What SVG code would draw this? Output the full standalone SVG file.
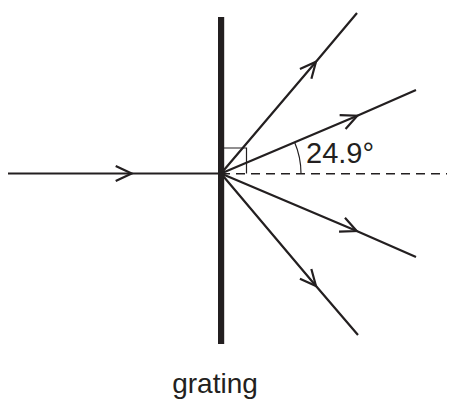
<svg xmlns="http://www.w3.org/2000/svg" width="452" height="401" viewBox="0 0 452 401">
<style>
.ray{fill:none;stroke:#231f20;stroke-width:2.2;marker-mid:url(#chev)}
.thin{fill:none;stroke:#231f20;stroke-width:1.2}
.dash{fill:none;stroke:#231f20;stroke-width:1.4;stroke-dasharray:9 6}
.lbl{font-family:"Liberation Sans",Arial,sans-serif;fill:#231f20}
</style>
<defs>
<marker id="chev" markerUnits="userSpaceOnUse" markerWidth="24" markerHeight="24" viewBox="-20 -12 24 24" refX="0" refY="0" orient="auto">
<path d="M-16,-7.5 L0,0 L-16,7.5" fill="none" stroke="#231f20" stroke-width="2.2"/>
</marker>
</defs>
<g id="grating">
<rect x="218" y="17" width="6.2" height="327" fill="#231f20"/>
<text class="lbl" x="215" y="393" font-size="28" text-anchor="middle">grating</text>
</g>
<g id="connectors">
<polyline class="ray" points="8,173.5 131.7,173.5 221,173.5"/>
<polyline class="ray" points="221,173.5 316,61.7 357,13"/>
<polyline class="ray" points="221,173.5 357.3,115.7 416,90"/>
<polyline class="ray" points="221,173.5 356.7,231 416,257"/>
<polyline class="ray" points="221,173.5 316,286 358,335"/>
<line class="dash" x1="221" y1="173.7" x2="447" y2="173.7"/>
</g>
<g id="angle">
<polyline class="thin" points="221,148 246.5,148 246.5,173.5"/>
<path class="thin" d="M301,173.5 A80,80 0 0 0 294.5,141.9"/>
<text class="lbl" x="306" y="163" font-size="29">24.9°</text>
</g>
</svg>
